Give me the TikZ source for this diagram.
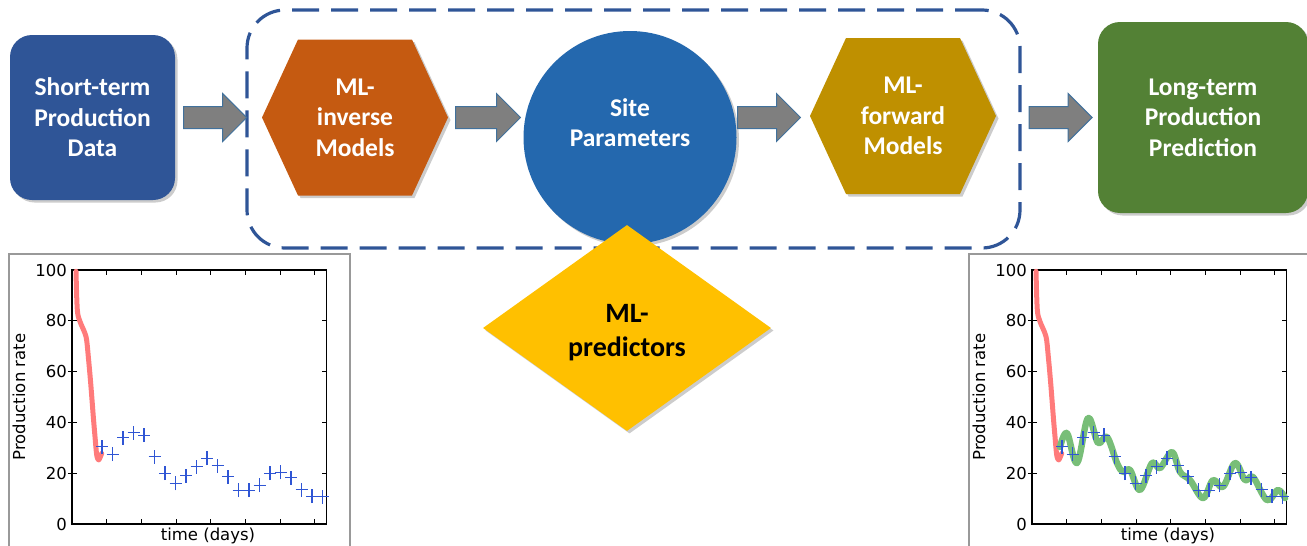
\documentclass[tikz,border=0pt]{standalone}
\usepackage{fontspec}
\setmainfont{Carlito}
\newfontfamily\plotfont{DejaVu Sans}
\usepackage{tikz}
\usetikzlibrary{positioning,shapes.geometric,shapes.arrows,shadows}

\definecolor{shortblue}{HTML}{2F5597}
\definecolor{invorange}{HTML}{C55A11}
\definecolor{siteblue}{HTML}{2468AE}
\definecolor{fwdgold}{HTML}{BF9000}
\definecolor{longgreen}{HTML}{538135}
\definecolor{predyellow}{HTML}{FFC000}
\definecolor{arrowgray}{HTML}{7F7F7F}
\definecolor{arrowedge}{HTML}{41719C}
\definecolor{fitred}{HTML}{FF7B7B}
\definecolor{fitgreen}{HTML}{78BE78}
\definecolor{crossblue}{HTML}{2F55D4}

\tikzset{
  boxtext/.style={text=white, align=center, inner sep=0pt, font=\bfseries\fontsize{25.5}{30.5}\selectfont},
  softshadow/.style={drop shadow={shadow xshift=2.5pt, shadow yshift=-2.5pt, opacity=.2, fill=black}},
  procbox/.style={boxtext, rounded corners=22pt, softshadow},
  hexshape/.style={softshadow},
  blockarrow/.style={single arrow, fill=arrowgray, draw=arrowedge, line width=1pt,
    minimum height=63pt, inner xsep=0pt, inner ysep=10.5pt, single arrow head extend=13pt},
  groupbox/.style={draw=shortblue, line width=3.2pt, dash pattern=on 27pt off 12pt, rounded corners=38pt},
  plotframe/.style={draw=black!40, line width=2pt},
  plotaxes/.style={draw=black, line width=1.8pt},
  plottick/.style={black, line width=1pt},
  ticklabel/.style={font=\plotfont\fontsize{16.5}{18}\selectfont, inner sep=0pt},
  redfit/.style={fitred, line width=5pt, line cap=round, line join=round},
  greenfit/.style={fitgreen, line width=6.5pt, line cap=round, line join=round},
  crossmark/.style={crossblue, line width=1.1pt}
}

\begin{document}
\begin{tikzpicture}[x=1pt, y=-1pt]
\useasboundingbox (0,0) rectangle (1307,546);

% gestrichelter Rahmen um die ML-Modelle
\node[groupbox, minimum width=773pt, minimum height=238pt] (mlgroup) at (633.5,129) {};

% Eingabe und Ausgabe
\node[procbox, fill=shortblue, minimum width=165pt, minimum height=165pt] (shortdata) at (92.5,117.5) {Short-term\\Production\\Data};
\node[procbox, fill=longgreen, minimum width=210pt, minimum height=191pt] (longpred) at (1203,117.5) {Long-term\\Production\\Prediction};

% Sechsecke
\coordinate (invc) at (355,117.5);
\fill[hexshape, invorange] (invc) ++(-93,0) -- ++(36,-78) -- ++(114,0) -- ++(36,78) -- ++(-36,78) -- ++(-114,0) -- cycle;
\node[boxtext] (inverse) at (invc) {ML-\\inverse\\Models};

\coordinate (fwdc) at (903,116);
\fill[hexshape, fwdgold] (fwdc) ++(-93,0) -- ++(36,-78) -- ++(114,0) -- ++(36,78) -- ++(-36,78) -- ++(-114,0) -- cycle;
\node[boxtext] (forward) at (fwdc) {ML-\\forward\\Models};

% Kreis
\node[circle, fill=siteblue, softshadow, minimum size=213pt, inner sep=0pt] (params) at (630,137.5) {};
\node[boxtext] (paramtext) at ([yshift=15pt]params.center) {Site\\Parameters};

% Blockpfeile
\node[blockarrow, right=8pt of shortdata] (arr1) {};
\node[blockarrow, minimum height=65pt, anchor=tail] (arr2) at (455,117.5) {};
\node[blockarrow, anchor=tail] (arr3) at (737,117.5) {};
\node[blockarrow, left=5pt of longpred] (arr4) {};

% Raute
\node[diamond, fill=predyellow, softshadow, minimum width=288pt, minimum height=206pt, inner sep=0pt] (predictors) at (627,328) {};
\node[align=center, inner sep=0pt, font=\bfseries\fontsize{28}{34}\selectfont] (predtext) at ([yshift=-5pt]predictors.center) {ML-\\predictors};

% Diagramme
\foreach \dx in {0,960} {
  \draw[plotframe] ({\dx+9},254) rectangle ({\dx+350},570);
  \begin{scope}[shift={({\dx+72},524)}, y=2.54pt]
    \draw[plotaxes] (0,0) rectangle (254.5,100);
    \foreach \t in {1,...,7}
      \draw[plottick] ({34.7*\t},0) -- ++(0,5pt) ({34.7*\t},100) -- ++(0,-5pt);
    \foreach \r in {20,40,60,80}
      \draw[plottick] (-4,\r) -- ++(9pt,0) (254.5,\r) -- ++(-5pt,0);
    \foreach \r in {0,20,...,100}
      \node[ticklabel, anchor=east] at (-5,\r) {\r};
    \node[ticklabel, rotate=90] at (-53,50) {Production rate};
    \node[ticklabel] at (136,-4.8) {time (days)};
    \draw[redfit] plot[smooth] coordinates {(4,99.5) (5.3,84.3) (8,79.7) (14,73.8) (16.3,65.9)
      (18.7,55.4) (21.3,42.3) (23,34.4) (24.7,27.2) (26.7,25.2) (29.7,27.8)};
  \end{scope}
}

\begin{scope}[shift={(1032,524)}, y=2.54pt]
  \draw[greenfit] plot[smooth, tension=0.6] coordinates {(28,30.3) (35,35.8) (45,24) (56,41.7) (66,31.9)
    (75,34.3) (85,24) (91,20.5) (98,21.3) (108,13.4) (120,24) (128,22) (140,28.3) (148,20.5)
    (158,17.3) (171,10.2) (181,17.3) (191,14.6) (203,24) (213,17.3) (221,18.5) (235,9.4)
    (246,13.4) (253,10.2)};
\end{scope}

\foreach \dx in {0,960} {
  \begin{scope}[shift={({\dx+72},524)}, y=2.54pt]
    \foreach \v [count=\i from 0] in {30.5,27.5,34,36,35,26.5,20,16,19,22.5,25.8,23,18.7,13.3,13.3,15.3,20,20.3,18.3,13.5,11,10.8}
      \draw[crossmark] ({30+10.5*\i},\v) +(-6pt,0) -- +(6pt,0) +(0,-7pt) -- +(0,7pt);
  \end{scope}
}
\end{tikzpicture}
\end{document}
